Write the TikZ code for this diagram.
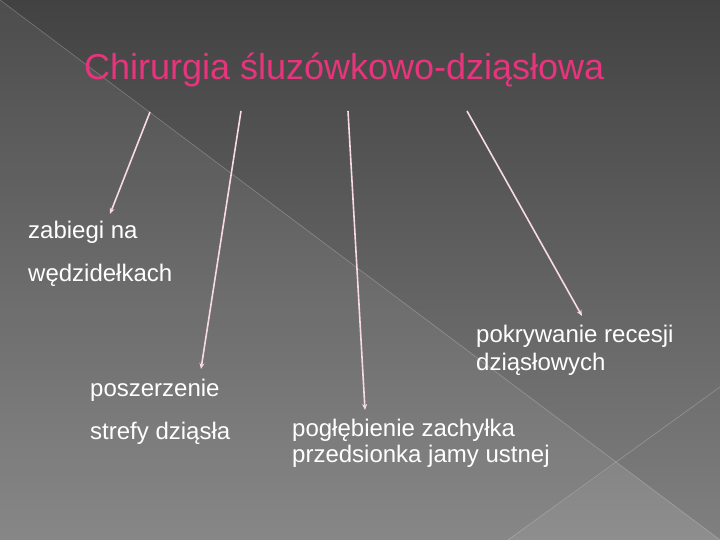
\documentclass[tikz,border=0pt]{standalone}
\usepackage{fontspec}
\setmainfont{Liberation Sans}
\usetikzlibrary{arrows.meta}
\definecolor{titlepink}{RGB}{232,52,124}
\definecolor{arrowpink}{RGB}{248,218,230}
\definecolor{bgtop}{RGB}{66,66,66}
\definecolor{bgbot}{RGB}{128,128,128}
\begin{document}
\begin{tikzpicture}[x=1pt,y=-1pt,
  lbl/.style={anchor=base west,inner sep=0pt,text=white,font=\fontsize{24}{28}\selectfont},
  ttl/.style={anchor=base west,inner sep=0pt,text=titlepink,font=\fontsize{36}{42}\selectfont},
  conn/.style={draw=arrowpink,line width=1.6pt,-{Stealth[length=6pt,width=5pt]}},
  bgline/.style={draw=white,draw opacity=0.22,line width=0.7pt}]
\useasboundingbox (0,0) rectangle (720,540);
% background
\shade[top color=bgtop,bottom color=bgbot] (0,0) rectangle (720,540);
\fill[white,opacity=0.06] (0,0) -- (720,540) -- (0,540) -- cycle;
\fill[white,opacity=0.06] (617,463) -- (720,540) -- (508,540) -- cycle;
\draw[bgline] (0,0) -- (720,540);
\draw[bgline] (720,387) -- (508,540);
% title
\node[ttl] (title) at (84,80) {Chirurgia śluzówkowo-dziąsłowa};
% labels
\node[lbl] (zab1) at (28,239) {zabiegi na};
\node[lbl] (zab2) at (28,281) {wędzidełkach};
\node[lbl] (pos1) at (90,396) {poszerzenie};
\node[lbl] (pos2) at (90,439) {strefy dziąsła};
\node[lbl] (pok1) at (476,342) {pokrywanie recesji};
\node[lbl] (pok2) at (476,370) {dziąsłowych};
\node[lbl] (pog1) at (292,436) {pogłębienie zachyłka};
\node[lbl] (pog2) at (292,462) {przedsionka jamy ustnej};
% connector ends
\coordinate (s1) at (150,112);
\coordinate (e1) at (110,214);
\coordinate (s2) at (241,111);
\coordinate (e2) at (201,369);
\coordinate (s3) at (348,111);
\coordinate (e3) at (365,410);
\coordinate (s4) at (467,111);
\coordinate (e4) at (582,316);
\draw[conn] (s1) -- (e1);
\draw[conn] (s2) -- (e2);
\draw[conn] (s3) -- (e3);
\draw[conn] (s4) -- (e4);
\end{tikzpicture}
\end{document}
